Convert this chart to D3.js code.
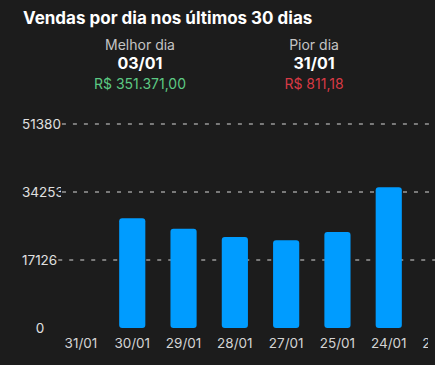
<!DOCTYPE html>
<html>
<head>
<meta charset="utf-8">
<script src="https://cdn.jsdelivr.net/npm/d3@7"></script>
<style>
  html, body { margin: 0; padding: 0; background: #1c1c1c; }
  svg { display: block; font-family: Inter, "Noto Sans", sans-serif; }
</style>
</head>
<body>
<div id="chartContainer"></div>
<script>
const days = ["31/01", "30/01", "29/01", "28/01", "27/01", "25/01", "24/01", "23/01"];
const sales = [811.18, 27630, 25010, 22920, 22090, 24180, 35440, null];
const yTicks = [0, 17126, 34253, 51380];

const best = { label: "Melhor dia", day: "03/01", value: "R$ 351.371,00" };
const worst = { label: "Pior dia", day: "31/01", value: "R$ 811,18" };

const svg = d3.select("#chartContainer")
    .append("svg")
    .attr("width", 435)
    .attr("height", 365);

svg.append("rect")
    .attr("width", 435)
    .attr("height", 365)
    .attr("fill", "#1c1c1c");

svg.append("text")
    .attr("x", 23)
    .attr("y", 24)
    .attr("fill", "#ffffff")
    .style("font-size", "17px")
    .style("font-weight", "700")
    .text("Vendas por dia nos últimos 30 dias");

// Melhor / pior dia
const summary = svg.selectAll(".summary")
    .data([{ d: best, x: 140, color: "#5cc983" }, { d: worst, x: 314, color: "#d83a45" }])
    .enter().append("g")
    .attr("class", "summary")
    .attr("transform", function(s) { return "translate(" + s.x + ",0)"; })
    .style("text-anchor", "middle");

summary.append("text")
    .attr("y", 50)
    .attr("fill", "#c4c4c4")
    .style("font-size", "14px")
    .text(function(s) { return s.d.label; });

summary.append("text")
    .attr("y", 69)
    .attr("fill", "#ffffff")
    .style("font-size", "16px")
    .style("font-weight", "700")
    .text(function(s) { return s.d.day; });

summary.append("text")
    .attr("y", 89)
    .attr("fill", function(s) { return s.color; })
    .style("font-size", "14px")
    .text(function(s) { return s.d.value; });

// scales
const x = d3.scaleBand()
    .domain(days)
    .range([55.3, 55.3 + 51.3 * days.length])
    .paddingInner(0.49)
    .paddingOuter(0.245);

const y = d3.scaleLinear()
    .domain([0, 51380])
    .range([328, 124]);

const defs = svg.append("defs");
defs.append("clipPath")
    .attr("id", "labelClip")
    .append("rect")
    .attr("x", 0).attr("y", 0)
    .attr("width", 61).attr("height", 365);
defs.append("clipPath")
    .attr("id", "plotClip")
    .append("rect")
    .attr("x", 0).attr("y", 0)
    .attr("width", 428).attr("height", 365);

// Y labels + dashed grid
const yAxis = svg.append("g").attr("class", "y-axis");
yTicks.forEach(function(t) {
    const label = yAxis.append("text")
        .attr("x", t === 0 ? 40 : 22)
        .attr("y", y(t) + 5)
        .attr("fill", "#e0e0e0")
        .attr("clip-path", "url(#labelClip)")
        .style("font-size", "13.5px")
        .style("text-anchor", t === 0 ? "middle" : "start")
        .text(t);
    if (t === 0) return;
    const end = Math.min(22 + label.node().getComputedTextLength(), 61);
    yAxis.append("line")
        .attr("x1", end + 1)
        .attr("x2", 435)
        .attr("y1", y(t))
        .attr("y2", y(t))
        .attr("stroke", "#d6d6d6")
        .attr("stroke-width", 1)
        .attr("stroke-dasharray", "4,7");
});

// bars (tiny values vanish under the rounded corners in the original)
const plot = svg.append("g").attr("clip-path", "url(#plotClip)");
plot.selectAll(".bar")
    .data(days.map(function(d, i) { return { day: d, value: sales[i] }; })
        .filter(function(d) { return d.value !== null && y(0) - y(d.value) > 6; }))
    .enter().append("rect")
    .attr("class", "bar")
    .attr("x", function(d) { return x(d.day); })
    .attr("y", function(d) { return y(d.value); })
    .attr("width", x.bandwidth())
    .attr("height", function(d) { return y(0) - y(d.value); })
    .attr("rx", 3)
    .attr("fill", "#009cff");

// X labels
plot.append("g")
    .attr("class", "x-axis")
    .selectAll("text")
    .data(days)
    .enter().append("text")
    .attr("x", function(d) { return x(d) + x.bandwidth() / 2; })
    .attr("y", 348)
    .attr("fill", "#d4d4d4")
    .style("font-size", "13.5px")
    .style("text-anchor", "middle")
    .text(function(d) { return d; });
</script>
</body>
</html>
